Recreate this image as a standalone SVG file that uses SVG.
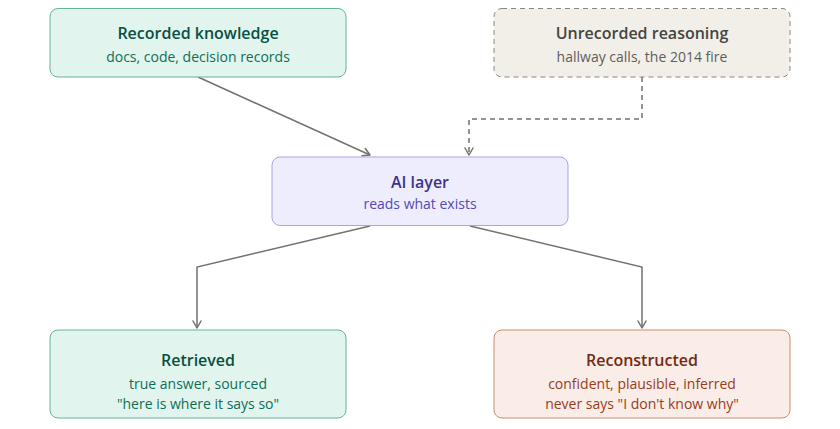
<svg xmlns="http://www.w3.org/2000/svg" width="840" height="429" viewBox="0 0 840 429">
<defs>
<marker id="arr" viewBox="0 0 10 10" refX="8" refY="5" markerWidth="10" markerHeight="10" markerUnits="userSpaceOnUse" orient="auto">
<path d="M1,1 L8,5 L1,9" fill="none" stroke="#73726c" stroke-width="1.5" stroke-linecap="round" stroke-linejoin="round"/>
</marker>
<style>
text{font-family:"Open Sans","Noto Sans","Liberation Sans",sans-serif;text-anchor:middle}
.t{font-size:16px;font-weight:600}
.s{font-size:14px}
.green rect{fill:#e1f5ee;stroke:#64b495;stroke-width:1}
.green .t{fill:#085041}.green .s{fill:#0f6e56}
.gray rect{fill:#f1efe8;stroke:#888780;stroke-width:1;stroke-dasharray:5 4}
.gray .t{fill:#444441}.gray .s{fill:#5f5e5a}
.purple rect{fill:#eeedfe;stroke:#a9a3e8;stroke-width:1}
.purple .t{fill:#3c3489}.purple .s{fill:#534ab7}
.coral rect{fill:#faece7;stroke:#d08a72;stroke-width:1}
.coral .t{fill:#712b13}.coral .s{fill:#993c1d}
.c{fill:none;stroke:#73726c;stroke-width:1.5}
</style>
</defs>
<g id="connectors">
<path class="c" d="M198,77 L370,155" marker-end="url(#arr)"/>
<path class="c" d="M642,77 L642,119 L469,119 L469,155" stroke-dasharray="5 4" marker-end="url(#arr)"/>
<path class="c" d="M370,226 L197,267 L197,328" marker-end="url(#arr)"/>
<path class="c" d="M470,226 L642,267 L642,328" marker-end="url(#arr)"/>
</g>
<g id="recorded" class="green">
<rect x="50" y="8.5" width="296" height="68.5" rx="8"/>
<text class="t" x="198" y="39">Recorded knowledge</text>
<text class="s" x="198" y="62">docs, code, decision records</text>
</g>
<g id="unrecorded" class="gray">
<rect x="494" y="8.5" width="296" height="68.5" rx="8"/>
<text class="t" x="642" y="39">Unrecorded reasoning</text>
<text class="s" x="642" y="62">hallway calls, the 2014 fire</text>
</g>
<g id="ai" class="purple">
<rect x="272" y="157" width="296" height="68.5" rx="8"/>
<text class="t" x="420" y="188">AI layer</text>
<text class="s" x="420" y="209">reads what exists</text>
</g>
<g id="retrieved" class="green">
<rect x="50" y="330" width="296" height="88" rx="8"/>
<text class="t" x="198" y="366">Retrieved</text>
<text class="s" x="198" y="389">true answer, sourced</text>
<text class="s" x="198" y="409">"here is where it says so"</text>
</g>
<g id="reconstructed" class="coral">
<rect x="494" y="330" width="296" height="88" rx="8"/>
<text class="t" x="642" y="366">Reconstructed</text>
<text class="s" x="642" y="389">confident, plausible, inferred</text>
<text class="s" x="642" y="409">never says "I don't know why"</text>
</g>
</svg>
